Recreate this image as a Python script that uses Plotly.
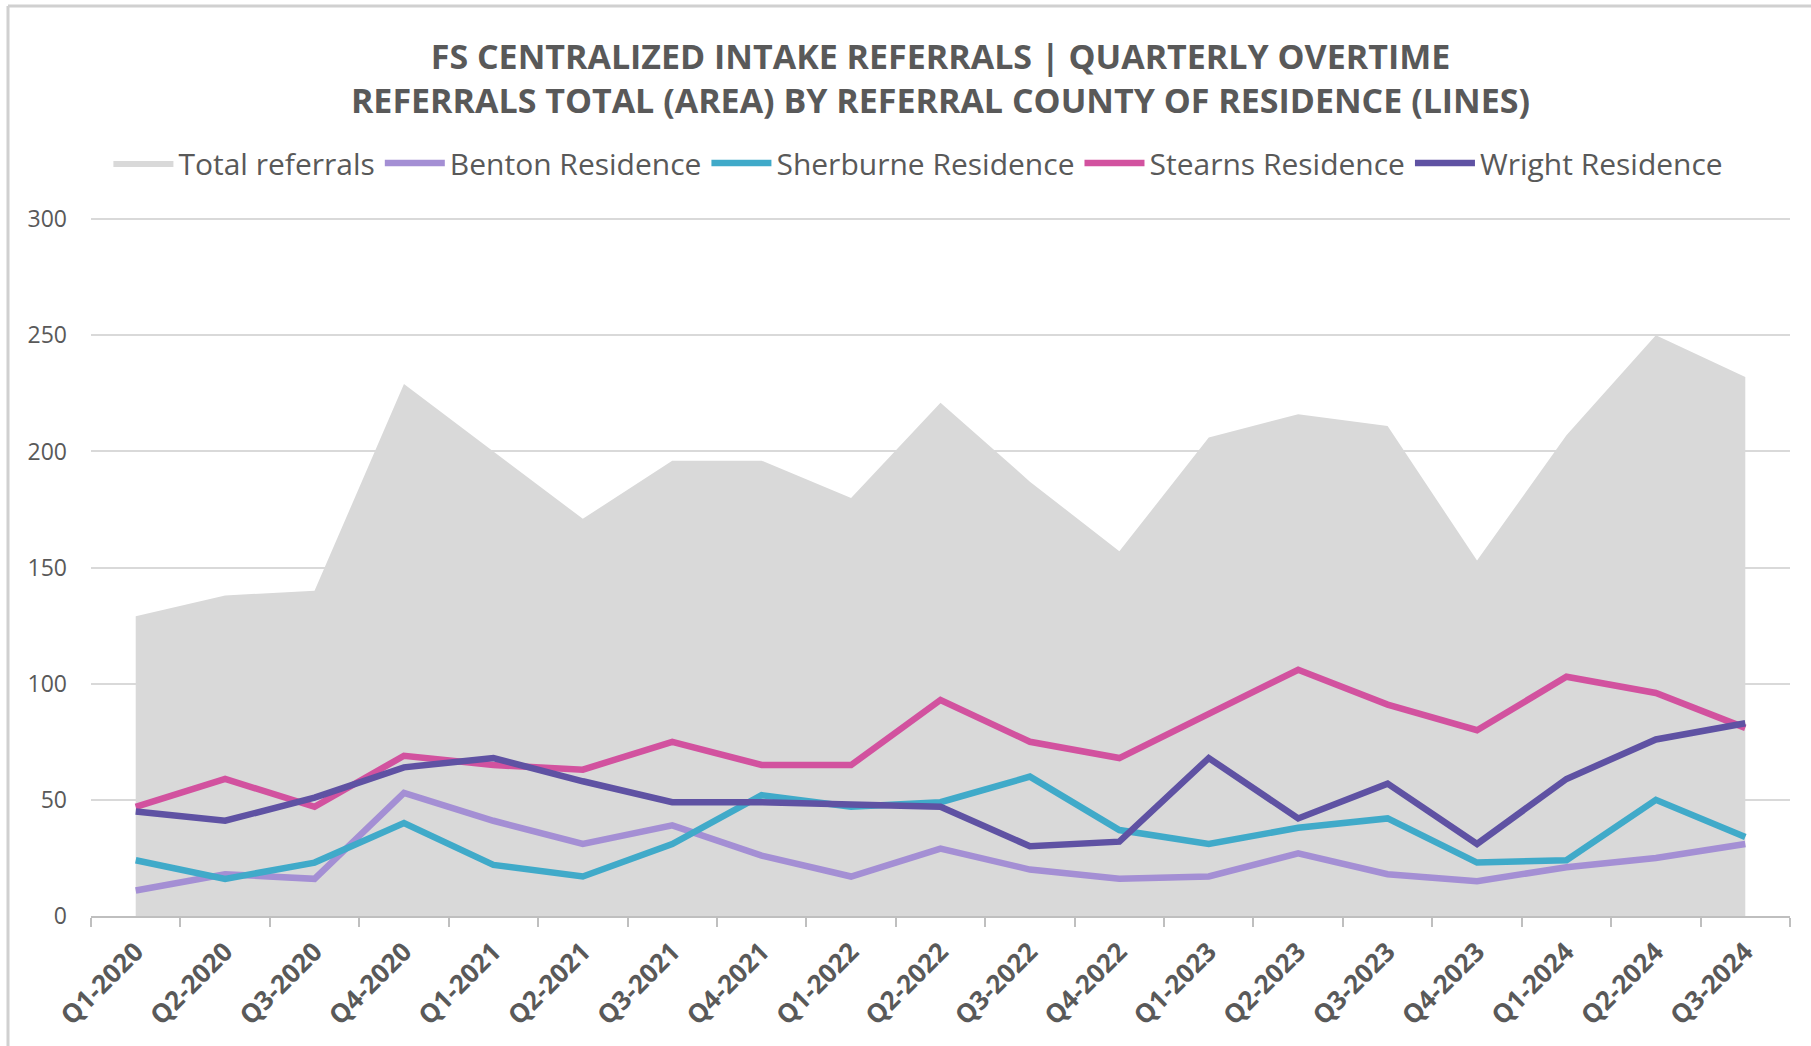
import plotly.graph_objects as go

quarters = ["Q1-2020", "Q2-2020", "Q3-2020", "Q4-2020", "Q1-2021", "Q2-2021", "Q3-2021",
            "Q4-2021", "Q1-2022", "Q2-2022", "Q3-2022", "Q4-2022", "Q1-2023", "Q2-2023",
            "Q3-2023", "Q4-2023", "Q1-2024", "Q2-2024", "Q3-2024"]
total_referrals = [129, 138, 140, 229, 200, 171, 196, 196, 180, 221, 187, 157, 206, 216, 211, 153, 207, 250, 232]
benton = [11, 18, 16, 53, 41, 31, 39, 26, 17, 29, 20, 16, 17, 27, 18, 15, 21, 25, 31]
sherburne = [24, 16, 23, 40, 22, 17, 31, 52, 47, 49, 60, 37, 31, 38, 42, 23, 24, 50, 34]
stearns = [47, 59, 47, 69, 65, 63, 75, 65, 65, 93, 75, 68, 87, 106, 91, 80, 103, 96, 81]
wright = [45, 41, 51, 64, 68, 58, 49, 49, 48, 47, 30, 32, 68, 42, 57, 31, 59, 76, 83]
y_ticks = [0, 50, 100, 150, 200, 250, 300]

FONT = "Open Sans"
TXT = "#595959"

fig = go.Figure()
fig.add_trace(go.Scatter(x=quarters, y=total_referrals, name="Total referrals", mode="lines",
                         fill="tozeroy", fillcolor="#d9d9d9", line=dict(width=0, color="#d9d9d9")))
series = [("Benton Residence", benton, "#a48fd4"),
          ("Sherburne Residence", sherburne, "#40aac9"),
          ("Stearns Residence", stearns, "#d2529f"),
          ("Wright Residence", wright, "#5f52a3")]
for name, vals, col in series:
    fig.add_trace(go.Scatter(x=quarters, y=vals, name=name, mode="lines",
                             line=dict(color=col, width=6.5)))

W, H = 1811, 1046
L, R, T, B = 91, 21, 218, 130
fig.update_layout(
    width=W, height=H,
    margin=dict(l=L, r=R, t=T, b=B),
    paper_bgcolor="white", plot_bgcolor="white",
    font=dict(family=FONT, color=TXT),
    title=dict(text="FS CENTRALIZED INTAKE REFERRALS | QUARTERLY OVERTIME<br>REFERRALS TOTAL (AREA) BY REFERRAL COUNTY OF RESIDENCE (LINES)",
               x=0.5, xref="paper", xanchor="center", y=1 - 69 / H, yref="container", yanchor="middle",
               font=dict(family=FONT, size=34, color=TXT, weight="bold")),
    legend=dict(orientation="h", x=0.487, xanchor="center", xref="paper",
                y=1 - 163 / H, yref="container", yanchor="middle",
                font=dict(family=FONT, size=30, color=TXT), itemwidth=60, traceorder="normal"),
    showlegend=True,
)
fig.update_xaxes(type="category", range=[-0.5, 18.5], tickson="boundaries", ticks="outside",
                 ticklen=9, tickcolor="#bfbfbf", tickwidth=2, showline=True, linecolor="#bfbfbf",
                 linewidth=2, showgrid=False, tickangle=-45, ticklabelstandoff=8,
                 tickfont=dict(family=FONT, size=26, color=TXT, weight="bold"))
fig.update_yaxes(range=[0, 300.5], tickvals=y_ticks, showgrid=True, gridcolor="#d9d9d9", gridwidth=2,
                 zeroline=False, showline=False, ticks="", ticklabelstandoff=23,
                 tickfont=dict(family=FONT, size=23, color=TXT))

pw, ph = W - L - R, H - T - B
# chart border (left & top)
fig.add_shape(type="line", xref="paper", yref="paper", x0=(8 - L) / pw, x1=(8 - L) / pw,
              y0=-B / ph, y1=(H - B - 6) / ph, line=dict(color="#d0d0d0", width=3))
fig.add_shape(type="line", xref="paper", yref="paper", x0=(8 - L) / pw, x1=(W - L) / pw,
              y0=(H - B - 6) / ph, y1=(H - B - 6) / ph, line=dict(color="#d0d0d0", width=3))

fig.write_html("out.html", config={"displayModeBar": False},
               post_script="document.body.style.margin='0';")
